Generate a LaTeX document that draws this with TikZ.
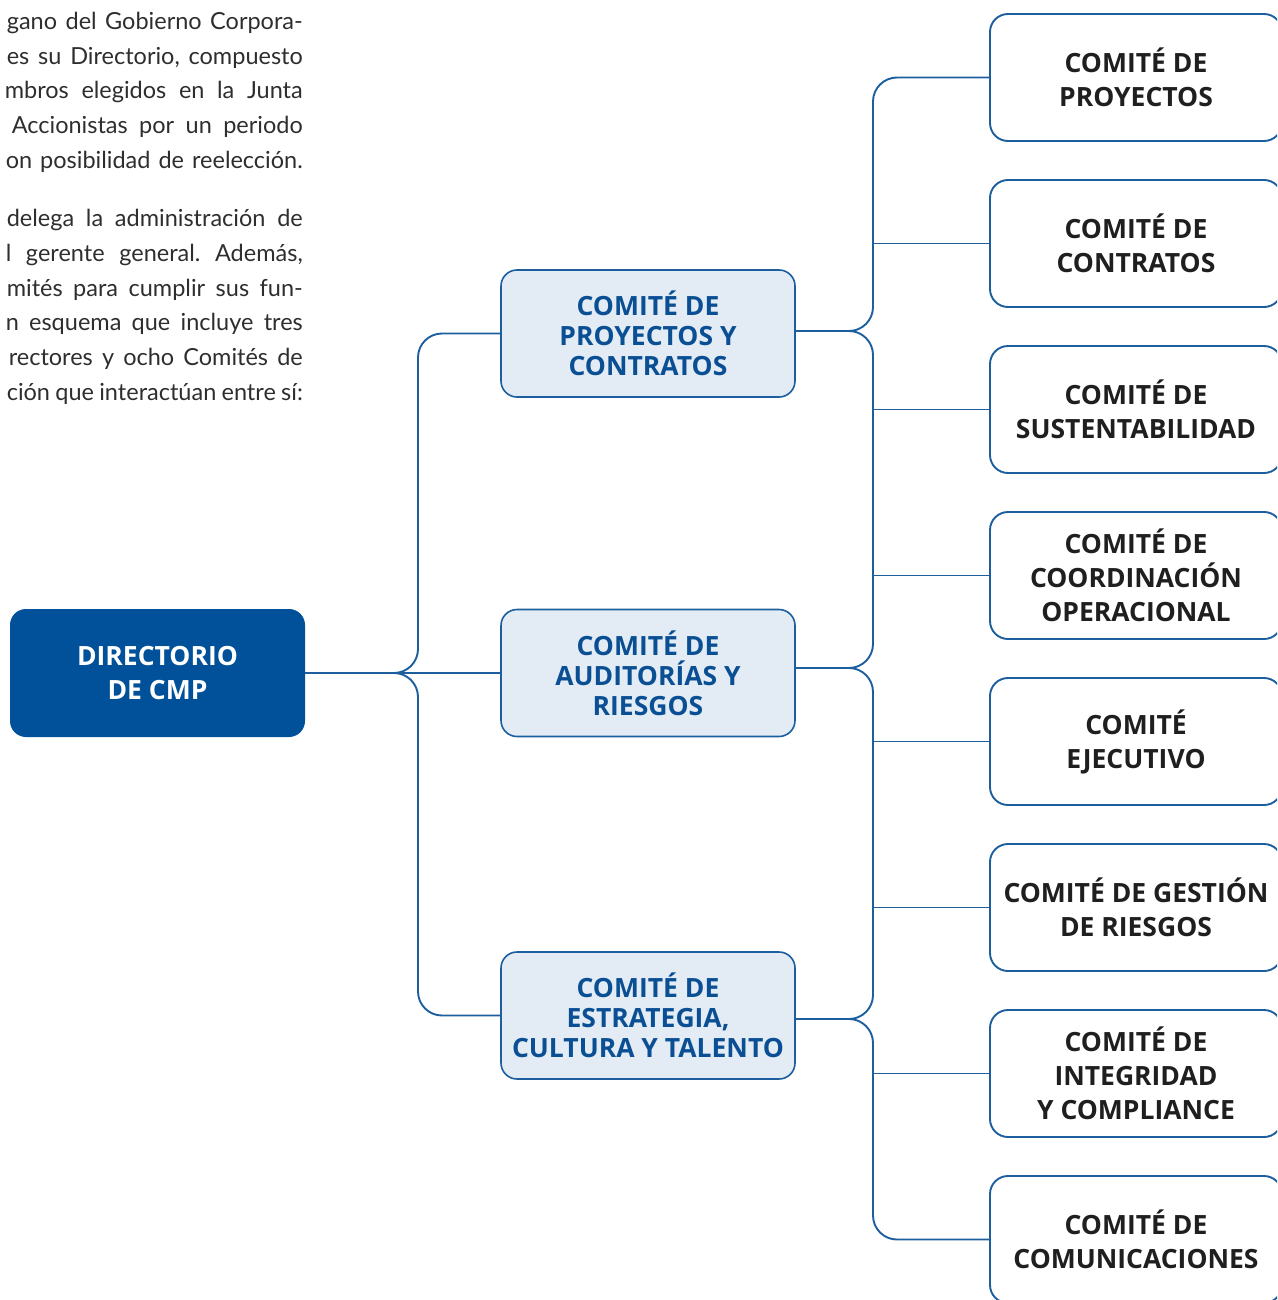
\documentclass[tikz,border=0pt]{standalone}
\usepackage{fontspec}
\setmainfont{Lato}
\newfontfamily\capfont{Open Sans}
\frenchspacing
\definecolor{dblue}{HTML}{00519A}
\definecolor{lblue}{HTML}{E3ECF5}
\definecolor{lnblue}{HTML}{1D5E9F}
\definecolor{tblue}{HTML}{0A4F93}
\definecolor{bodygray}{HTML}{2E2E2E}
\tikzset{
  conn/.style={draw=lnblue, line width=1.9pt},
  capt/.style={align=center, inner sep=0pt, rectangle},
  dirbox/.style={capt, font=\capfont\bfseries\fontsize{26.5}{34}\selectfont, rounded corners=16pt, fill=dblue, text=white, minimum width=295pt, minimum height=128pt},
  midbox/.style={capt, font=\capfont\bfseries\fontsize{26.5}{30}\selectfont, rounded corners=16pt, draw=lnblue, line width=1.6pt, fill=lblue, text=tblue, minimum width=294pt, minimum height=127pt},
  rbox/.style={capt, font=\capfont\bfseries\fontsize{26.5}{34}\selectfont, rounded corners=18pt, draw=lnblue, line width=1.9pt, fill=white, text=black!88, minimum width=292pt, minimum height=127pt},
  bodyline/.style={anchor=base east, inner sep=0pt, font=\frenchspacing\fontsize{23.5}{35}\selectfont, text=bodygray}
}
\begin{document}
\begin{tikzpicture}[x=1pt,y=-1pt]
\clip (0,0) rectangle (1277,1300);
% body text
\node[bodyline] (b1) at (303,30) {\makebox[296pt][s]{gano del Gobierno Corpora-}};
\node[bodyline] (b2) at (303,65) {\makebox[296pt][s]{es su Directorio, compuesto}};
\node[bodyline] (b3) at (303,99) {\makebox[298pt][s]{mbros elegidos en la Junta}};
\node[bodyline] (b4) at (303,134) {\makebox[291pt][s]{Accionistas por un periodo}};
\node[bodyline] (b5) at (303,169) {\makebox[297pt][s]{on posibilidad de reelección.}};
\node[bodyline] (b6) at (303,226) {\makebox[296pt][s]{delega la administración de}};
\node[bodyline] (b7) at (303,261) {\makebox[297pt][s]{l gerente general. Además,}};
\node[bodyline] (b8) at (303,296) {\makebox[296pt][s]{mités para cumplir sus fun-}};
\node[bodyline] (b9) at (303,330) {\makebox[297pt][s]{n esquema que incluye tres}};
\node[bodyline] (b10) at (303,365) {\makebox[294pt][s]{rectores y ocho Comités de}};
\node[bodyline] (b11) at (303,400) {\makebox[296pt][s]{ción que interactúan entre sí:}};
% boxes
\node[dirbox] (dir) at (157.5,673) {DIRECTORIO\\DE CMP};
\node[midbox] (m1) at (648,333.5) {COMITÉ DE\\PROYECTOS Y\\CONTRATOS};
\node[midbox] (m2) at (648,673) {COMITÉ DE\\AUDITORÍAS Y\\RIESGOS};
\node[midbox] (m3) at (648,1015.5) {COMITÉ DE\\ESTRATEGIA,\\CULTURA Y TALENTO};
\node[rbox] (r1) at (1136,77.5) {COMITÉ DE\\PROYECTOS};
\node[rbox] (r2) at (1136,243.5) {COMITÉ DE\\CONTRATOS};
\node[rbox] (r3) at (1136,409.5) {COMITÉ DE\\SUSTENTABILIDAD};
\node[rbox] (r4) at (1136,575.5) {COMITÉ DE\\COORDINACIÓN\\OPERACIONAL};
\node[rbox] (r5) at (1136,741.5) {COMITÉ\\EJECUTIVO};
\node[rbox] (r6) at (1136,907.5) {COMITÉ DE GESTIÓN\\DE RIESGOS};
\node[rbox] (r7) at (1136,1073.5) {COMITÉ DE\\INTEGRIDAD\\Y COMPLIANCE};
\node[rbox] (r8) at (1136,1239.5) {COMITÉ DE\\COMUNICACIONES};
% left brace
\coordinate (lt) at (392,673);
\coordinate (lv) at (418,673);
\draw[conn] (dir.east) -- (m2.west);
\draw[conn, rounded corners=24pt] (m1.west) -| (lv) -- (lt);
\draw[conn, rounded corners=24pt] (m3.west) -| (lv) -- (lt);
% right brace
\coordinate (t1) at (848,331);
\coordinate (v1) at (873,331);
\coordinate (t2) at (848,668);
\coordinate (v2) at (873,668);
\coordinate (t3) at (848,1019);
\coordinate (v3) at (873,1019);
\draw[conn] (m1.east |- t1) -- (t1);
\draw[conn] (m2.east |- t2) -- (t2);
\draw[conn] (m3.east |- t3) -- (t3);
\draw[conn, rounded corners=24pt] (r1.west) -| (v1) -- (t1);
\draw[conn, rounded corners=24pt] (t1) -- (v1) -- (v2) -- (t2);
\draw[conn, rounded corners=24pt] (t2) -- (v2) -- (v3) -- (t3);
\draw[conn, rounded corners=24pt] (t3) -- (v3) |- (r8.west);
\draw[conn] (r2.west) -- (r2.west -| v1);
\draw[conn] (r3.west) -- (r3.west -| v1);
\draw[conn] (r4.west) -- (r4.west -| v1);
\draw[conn] (r5.west) -- (r5.west -| v1);
\draw[conn] (r6.west) -- (r6.west -| v1);
\draw[conn] (r7.west) -- (r7.west -| v1);
\end{tikzpicture}
\end{document}
